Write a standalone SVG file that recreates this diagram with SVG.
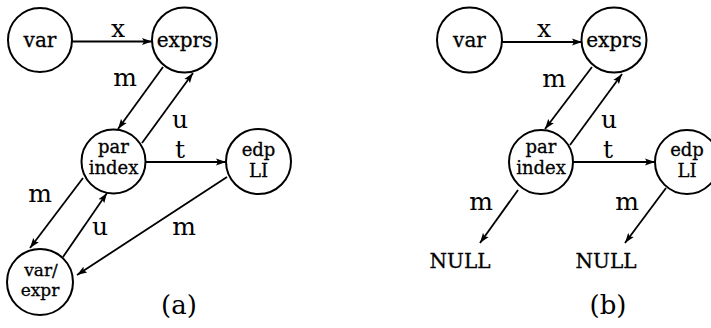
<svg xmlns="http://www.w3.org/2000/svg" width="711" height="328" viewBox="0 0 711 328">
<style>
.n circle{fill:#fff;stroke:#000;stroke-width:2}
.nt{font-family:"DejaVu Serif","Liberation Serif",serif;font-size:20px;text-anchor:middle;fill:#000;stroke:#000;stroke-width:0.3}
.nt2{font-family:"DejaVu Serif","Liberation Serif",serif;font-size:18px;text-anchor:middle;fill:#000;stroke:#000;stroke-width:0.3}
.nt3{font-family:"DejaVu Serif","Liberation Serif",serif;font-size:17px;text-anchor:middle;fill:#000;stroke:#000;stroke-width:0.3}
.el{font-family:"DejaVu Serif","Liberation Serif",serif;font-size:25px;text-anchor:middle;fill:#000}
.nl{font-family:"DejaVu Serif","Liberation Serif",serif;font-size:20px;text-anchor:middle;fill:#000;stroke:#000;stroke-width:0.3}
.cap{font-family:"DejaVu Serif","Liberation Serif",serif;font-size:26px;text-anchor:middle;fill:#000}
.e line{stroke:#000;stroke-width:1.8;marker-end:url(#ah)}
</style>
<defs>
<marker id="ah" markerUnits="userSpaceOnUse" markerWidth="11" markerHeight="8" refX="10" refY="4" orient="auto">
<path d="M0,0.5 L10,4 L0,7.5 L2,4 Z" fill="#000"/>
</marker>
</defs>
<rect width="711" height="328" fill="#fff"/>
<g id="connectors" class="e">
<line x1="72" y1="41.5" x2="152" y2="41.5"/>
<line x1="163" y1="67" x2="118" y2="129"/>
<line x1="142" y1="143" x2="193" y2="73"/>
<line x1="146" y1="162" x2="226" y2="162"/>
<line x1="83" y1="178" x2="30" y2="248"/>
<line x1="63" y1="257" x2="107" y2="193"/>
<line x1="227" y1="177" x2="77" y2="275"/>
<line x1="502" y1="42" x2="582" y2="42"/>
<line x1="592" y1="67" x2="545" y2="129"/>
<line x1="570" y1="145" x2="622" y2="74"/>
<line x1="573" y1="162" x2="655" y2="162"/>
<line x1="518" y1="190" x2="480" y2="243"/>
<line x1="666" y1="188" x2="625" y2="243"/>
</g>
<g id="edge-labels">
<text class="el" x="118" y="37">x</text>
<text class="el" x="125" y="86">m</text>
<text class="el" x="180" y="128">u</text>
<text class="el" x="180" y="158">t</text>
<text class="el" x="40" y="202">m</text>
<text class="el" x="100" y="235">u</text>
<text class="el" x="184" y="235">m</text>
<text class="el" x="544" y="37">x</text>
<text class="el" x="554" y="87">m</text>
<text class="el" x="609" y="128">u</text>
<text class="el" x="608" y="158">t</text>
<text class="el" x="481" y="210">m</text>
<text class="el" x="627" y="210">m</text>
</g>
<g id="a-var" class="n"><circle cx="40" cy="40" r="32"/><text class="nt" x="40" y="47">var</text></g>
<g id="a-exprs" class="n"><circle cx="184.5" cy="40" r="32.5"/><text class="nt" x="184.5" y="47">exprs</text></g>
<g id="a-parindex" class="n"><circle cx="113.5" cy="161.5" r="32"/><text class="nt2" x="113.5" y="153">par<tspan x="113.5" dy="21">index</tspan></text></g>
<g id="a-edpli" class="n"><circle cx="258.5" cy="161.5" r="32.5"/><text class="nt2" x="258.5" y="156">edp<tspan x="258.5" dy="21">LI</tspan></text></g>
<g id="a-varexpr" class="n"><circle cx="40" cy="282" r="33"/><text class="nt3" x="41" y="276">var/<tspan x="40" dy="20">expr</tspan></text></g>
<g id="b-var" class="n"><circle cx="469.5" cy="40" r="32.5"/><text class="nt" x="469.5" y="47">var</text></g>
<g id="b-exprs" class="n"><circle cx="614" cy="40" r="32.5"/><text class="nt" x="614" y="47">exprs</text></g>
<g id="b-parindex" class="n"><circle cx="541" cy="162" r="32"/><text class="nt2" x="541" y="153">par<tspan x="541" dy="21">index</tspan></text></g>
<g id="b-edpli" class="n"><circle cx="687" cy="162" r="32"/><text class="nt2" x="687" y="156">edp<tspan x="687" dy="21">LI</tspan></text></g>
<g id="b-null1"><text class="nl" x="460" y="268">NULL</text></g>
<g id="b-null2"><text class="nl" x="606" y="268">NULL</text></g>
<text class="cap" x="179" y="314">(a)</text>
<text class="cap" x="608" y="314">(b)</text>
</svg>
